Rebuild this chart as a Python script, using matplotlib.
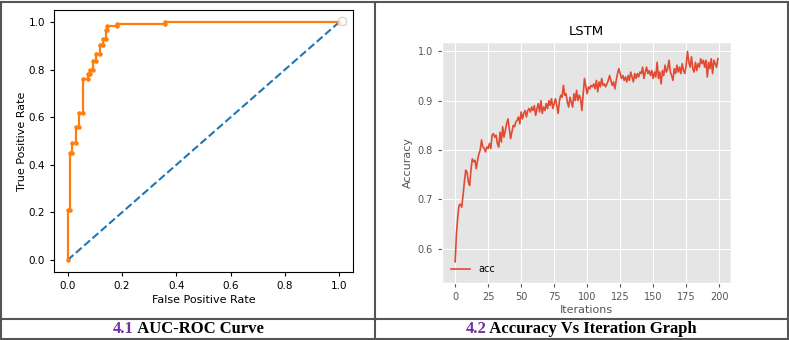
import matplotlib
matplotlib.use("Agg")
import matplotlib.pyplot as plt
from matplotlib.lines import Line2D

# ROC curve points
fpr = [0.0, 0.0, 0.01, 0.01, 0.018, 0.018, 0.03, 0.03, 0.043, 0.043, 0.055, 0.055,
       0.075, 0.075, 0.084, 0.084, 0.093, 0.093, 0.105, 0.105, 0.12, 0.12, 0.13, 0.13,
       0.14, 0.14, 0.146, 0.146, 0.182, 0.182, 0.357, 0.357, 1.0]
tpr = [0.0, 0.21, 0.21, 0.45, 0.45, 0.49, 0.49, 0.56, 0.56, 0.617, 0.617, 0.76,
       0.76, 0.78, 0.78, 0.80, 0.80, 0.835, 0.835, 0.865, 0.865, 0.905, 0.905, 0.93,
       0.93, 0.968, 0.968, 0.982, 0.982, 0.99, 0.99, 1.0, 1.0]
chance = [0.0, 1.0]

# LSTM accuracy per iteration
acc = [
    0.573, 0.63, 0.664, 0.688, 0.69, 0.684, 0.708, 0.735, 0.759, 0.755,
    0.735, 0.728, 0.76, 0.782, 0.776, 0.779, 0.762, 0.779, 0.792, 0.80,
    0.82, 0.806, 0.803, 0.796, 0.806, 0.803, 0.813, 0.803, 0.83, 0.833,
    0.826, 0.83, 0.813, 0.806, 0.836, 0.816, 0.847, 0.826, 0.84, 0.853,
    0.863, 0.843, 0.823, 0.836, 0.85, 0.847, 0.857, 0.86, 0.867, 0.853,
    0.877, 0.863, 0.874, 0.88, 0.867, 0.88, 0.884, 0.877, 0.887, 0.88,
    0.89, 0.87, 0.884, 0.894, 0.877, 0.90, 0.874, 0.887, 0.88, 0.894,
    0.884, 0.90, 0.89, 0.904, 0.884, 0.894, 0.904, 0.89, 0.874, 0.90,
    0.911, 0.907, 0.931, 0.911, 0.914, 0.897, 0.887, 0.907, 0.897, 0.887,
    0.914, 0.90, 0.921, 0.90, 0.911, 0.904, 0.88, 0.914, 0.945, 0.928,
    0.914, 0.928, 0.924, 0.931, 0.928, 0.934, 0.924, 0.941, 0.918, 0.938,
    0.928, 0.945, 0.931, 0.934, 0.928, 0.934, 0.941, 0.951, 0.941, 0.931,
    0.938, 0.924, 0.941, 0.955, 0.965, 0.955, 0.945, 0.951, 0.941, 0.948,
    0.938, 0.951, 0.941, 0.958, 0.948, 0.938, 0.955, 0.945, 0.955, 0.948,
    0.958, 0.955, 0.968, 0.945, 0.958, 0.968, 0.955, 0.961, 0.951, 0.961,
    0.945, 0.958, 0.948, 0.978, 0.945, 0.958, 0.934, 0.961, 0.951, 0.972,
    0.958, 0.965, 0.982, 0.958, 0.951, 0.941, 0.965, 0.955, 0.972, 0.958,
    0.968, 0.955, 0.975, 0.961, 0.955, 0.972, 1.0, 0.978, 0.968, 0.989,
    0.965, 0.958, 0.978, 0.961, 0.975, 0.968, 0.985, 0.975, 0.982, 0.968,
    0.982, 0.948, 0.978, 0.965, 0.985, 0.955, 0.982, 0.975, 0.968, 0.985,
]
iterations = list(range(len(acc)))

captions = [("4.1", " AUC-ROC Curve"), ("4.2", " Accuracy Vs Iteration Graph")]

W, H = 789, 340
fig = plt.figure(figsize=(W / 100, H / 100), dpi=100)


def px_box(x0, y0, x1, y1):
    return [x0 / W, 1 - y1 / H, (x1 - x0) / W, (y1 - y0) / H]


# left panel: ROC in default style
ax1 = fig.add_axes(px_box(54, 10, 353, 272))
ax1.plot(chance, chance, linestyle="--", color="C0")
ax1.plot(fpr, tpr, marker=".", color="C1", markersize=4.5, linewidth=1.6)
ax1.set_xlabel("False Positive Rate", fontsize=8, labelpad=3)
ax1.set_ylabel("True Positive Rate", fontsize=8)
ax1.yaxis.set_label_coords(-0.09, 0.5)
ax1.tick_params(labelsize=7.5, length=3)
ax1.legend(handles=[], loc="upper right", borderpad=0.3)

# right panel: LSTM accuracy in ggplot style
with plt.style.context("ggplot"):
    ax2 = fig.add_axes(px_box(442, 42, 731, 283))
    ax2.plot(iterations, acc, label="acc", linewidth=1.2)
    ax2.set_ylim(0.53, 1.019)
    ax2.set_yticks([0.6, 0.7, 0.8, 0.9, 1.0])
    ax2.set_xticks([0, 25, 50, 75, 100, 125, 150, 175, 200])
    ax2.set_title("LSTM", fontsize=9.5, pad=5)
    ax2.set_xlabel("Iterations", fontsize=8, labelpad=2)
    ax2.set_ylabel("Accuracy", fontsize=8)
    ax2.yaxis.set_label_coords(-0.1, 0.5)
    ax2.tick_params(labelsize=7, length=3)
    ax2.legend(loc="lower left", fontsize=7, frameon=False)

# table borders
border = dict(color="#555555", linewidth=1.5, transform=fig.transFigure)
for y in [1.5, 319, 338.5]:
    fig.add_artist(Line2D([0, 1], [1 - y / H, 1 - y / H], **border))
for x in [1, 374.5, 787.5]:
    fig.add_artist(Line2D([x / W, x / W], [1 - 338.5 / H, 1 - 1.5 / H], **border))

# captions: purple number followed by black bold text, centred in each cell
renderer = fig.canvas.get_renderer()
cell_centres = [188, 581]
cap_font = dict(family="Liberation Serif", weight="bold", fontsize=12, va="center")
for (num, rest), cx in zip(captions, cell_centres):
    t1 = fig.text(0, 1 - 329 / H, num, color="#7030A0", ha="left", **cap_font)
    t2 = fig.text(0, 1 - 329 / H, rest, color="black", ha="left", **cap_font)
    w1 = t1.get_window_extent(renderer).width
    w2 = t2.get_window_extent(renderer).width
    x0 = cx - (w1 + w2) / 2
    t1.set_x(x0 / W)
    t2.set_x((x0 + w1) / W)

fig.savefig("out.png", dpi=100)
